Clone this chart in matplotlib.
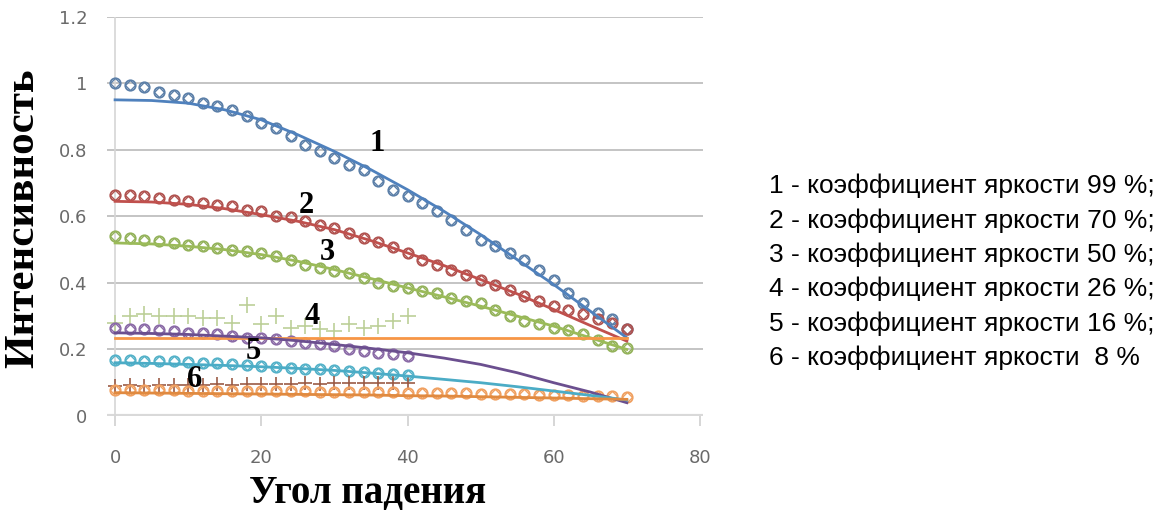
import matplotlib.pyplot as plt

# angles, degrees (measurements every 2 degrees)
angles_70 = list(range(0, 72, 2))
angles_40 = list(range(0, 42, 2))
fit_angles = [0, 5, 10, 15, 20, 25, 30, 35, 40, 45, 50, 55, 60, 65, 70]

# measured intensities
meas_1 = [1.00, 0.995, 0.99, 0.975, 0.965, 0.955, 0.94, 0.93, 0.92, 0.90, 0.88, 0.865,
          0.84, 0.815, 0.795, 0.775, 0.755, 0.74, 0.705, 0.68, 0.66, 0.64, 0.615, 0.59,
          0.56, 0.53, 0.51, 0.49, 0.47, 0.44, 0.41, 0.37, 0.34, 0.31, 0.29, 0.26]
meas_2 = [0.665, 0.665, 0.66, 0.655, 0.65, 0.645, 0.64, 0.635, 0.63, 0.62, 0.615, 0.60,
          0.598, 0.585, 0.575, 0.565, 0.55, 0.535, 0.523, 0.508, 0.49, 0.47, 0.455, 0.44,
          0.425, 0.41, 0.395, 0.38, 0.36, 0.345, 0.33, 0.32, 0.305, 0.29, 0.28, 0.26]
meas_3 = [0.54, 0.535, 0.53, 0.525, 0.52, 0.515, 0.51, 0.505, 0.50, 0.495, 0.49, 0.48,
          0.47, 0.455, 0.445, 0.435, 0.43, 0.415, 0.40, 0.39, 0.385, 0.375, 0.37, 0.355,
          0.345, 0.34, 0.32, 0.30, 0.285, 0.275, 0.265, 0.258, 0.245, 0.228, 0.21, 0.205]
meas_4 = [0.28, 0.30, 0.305, 0.30, 0.30, 0.30, 0.295, 0.295, 0.28, 0.335, 0.275, 0.30,
          0.265, 0.27, 0.26, 0.255, 0.275, 0.265, 0.27, 0.285, 0.30]
meas_5 = [0.265, 0.26, 0.26, 0.258, 0.255, 0.25, 0.25, 0.245, 0.24, 0.235, 0.235, 0.23,
          0.225, 0.22, 0.215, 0.21, 0.20, 0.195, 0.19, 0.185, 0.18]
meas_5b = [0.168, 0.167, 0.166, 0.165, 0.164, 0.162, 0.16, 0.158, 0.155, 0.152, 0.15, 0.147,
           0.145, 0.142, 0.14, 0.137, 0.134, 0.131, 0.128, 0.125, 0.122]
meas_6 = [0.09, 0.092, 0.09, 0.093, 0.092, 0.094, 0.093, 0.095, 0.094, 0.096, 0.095, 0.097,
          0.096, 0.098, 0.097, 0.099, 0.098, 0.1, 0.099, 0.1, 0.1]
meas_6b = [0.078, 0.078, 0.077, 0.077, 0.077, 0.076, 0.076, 0.076, 0.075, 0.075, 0.075, 0.074,
           0.074, 0.074, 0.073, 0.073, 0.072, 0.072, 0.071, 0.071, 0.07, 0.07, 0.069, 0.069,
           0.068, 0.067, 0.067, 0.066, 0.065, 0.064, 0.063, 0.062, 0.061, 0.06, 0.059, 0.058]

# calculated curves
fit_1 = [0.95, 0.948, 0.94, 0.92, 0.89, 0.845, 0.795, 0.74, 0.68, 0.615, 0.545, 0.47, 0.395,
         0.315, 0.235]
fit_2 = [0.645, 0.643, 0.636, 0.623, 0.605, 0.585, 0.56, 0.527, 0.49, 0.452, 0.41, 0.367, 0.32,
         0.272, 0.225]
fit_3 = [0.52, 0.517, 0.51, 0.50, 0.485, 0.465, 0.44, 0.413, 0.385, 0.358, 0.33, 0.30, 0.27,
         0.235, 0.20]
fit_4 = [0.235, 0.235, 0.235, 0.235, 0.235, 0.235, 0.235, 0.235, 0.235, 0.235, 0.235, 0.235,
         0.235, 0.235, 0.235]
fit_5 = [0.25, 0.248, 0.245, 0.24, 0.235, 0.226, 0.215, 0.203, 0.19, 0.174, 0.155, 0.13, 0.10,
         0.072, 0.04]
fit_5b = [0.16, 0.158, 0.155, 0.152, 0.148, 0.143, 0.137, 0.129, 0.12, 0.11, 0.10, 0.088, 0.075,
          0.062, 0.048]
fit_6 = [0.07, 0.069, 0.068, 0.067, 0.066, 0.065, 0.064, 0.063, 0.061, 0.06, 0.058, 0.056, 0.054,
         0.052, 0.05]

curve_labels = ["1", "2", "3", "4", "5", "6"]
label_x = [35.9, 26.2, 29.1, 27.0, 18.9, 10.9]
label_y = [0.82, 0.634, 0.49, 0.30, 0.195, 0.11]

legend_lines = [
    "1 - коэффициент яркости 99 %;",
    "2 - коэффициент яркости 70 %;",
    "3 - коэффициент яркости 50 %;",
    "4 - коэффициент яркости 26 %;",
    "5 - коэффициент яркости 16 %;",
    "6 - коэффициент яркости  8 %",
]

x_ticks = [0, 20, 40, 60, 80]
y_ticks = [0, 0.2, 0.4, 0.6, 0.8, 1.0, 1.2]
y_tick_labels = ["0", "0.2", "0.4", "0.6", "0.8", "1", "1.2"]

fig = plt.figure(figsize=(11.66, 5.12), dpi=100)
ax = fig.add_axes([0.0918, 0.1875, 0.511, 0.78])

for y in y_ticks[1:]:
    ax.axhline(y, color="#c4c4c4", lw=1.4, zorder=0)
ax.axhline(0, color="#d9d9d9", lw=3, zorder=0)
ax.axvline(0, color="#d6d6d6", lw=1.2, zorder=0)


def hollow(xs, ys, color):
    ax.plot(xs, ys, ls="none", marker="o", ms=7.5, mfc="none", mec=color, mew=1.3, zorder=3)
    ax.plot(xs, ys, ls="none", marker="D", ms=5, mfc="none", mec=color, mew=0.9, zorder=3)


hollow(angles_70, meas_1, "#5b7fa8")
hollow(angles_70, meas_2, "#b0524f")
hollow(angles_70, meas_3, "#93b25a")
ax.plot(angles_40, meas_4, ls="none", marker="+", ms=11, mew=1.2, color="#bccf98", zorder=3)
hollow(angles_40, meas_5, "#8a6aa6")
hollow(angles_40, meas_5b, "#53b1c8")
ax.plot(angles_40, meas_6, ls="none", marker="+", ms=10, mew=1.2, color="#9b5b45", zorder=3)
hollow(angles_70, meas_6b, "#f0a060")

ax.plot(fit_angles, fit_1, color="#4f81bd", lw=2, zorder=4)
ax.plot(fit_angles, fit_2, color="#c0504d", lw=2, zorder=4)
ax.plot(fit_angles, fit_3, color="#9bbb59", lw=2, zorder=4)
ax.plot(fit_angles, fit_4, color="#f79646", lw=2, zorder=4)
ax.plot(fit_angles, fit_5, color="#6b4f8f", lw=2, zorder=4)
ax.plot(fit_angles, fit_5b, color="#4bacc6", lw=2, zorder=4)
ax.plot(fit_angles, fit_6, color="#e08a40", lw=2, zorder=4)

for lbl, lx, ly in zip(curve_labels, label_x, label_y):
    ax.text(lx, ly, lbl, family="Liberation Serif", fontweight="bold", fontsize=22,
            ha="center", va="center", color="black", zorder=6)

ax.set_xlim(-1.1, 80.4)
ax.set_ylim(0, 1.2)
ax.set_xticks(x_ticks)
ax.set_yticks(y_ticks)
ax.set_yticklabels(y_tick_labels)
ax.tick_params(axis="both", colors="#d0d0d0", labelcolor="#6a6a6a", labelsize=13)
ax.tick_params(axis="y", length=0, pad=14)
ax.tick_params(axis="x", length=7, width=1.2, pad=17)
for side in ax.spines.values():
    side.set_visible(False)

fig.text(368 / 1166, 1 - 494 / 512, "Угол падения", family="Liberation Serif",
         fontweight="bold", fontsize=28, ha="center", va="center")
fig.text(23 / 1166, 1 - 218 / 512, "Интенсивность", family="Liberation Serif",
         fontweight="bold", fontsize=31, ha="center", va="center", rotation=90)

for i, line in enumerate(legend_lines):
    fig.text(769 / 1166, 1 - (186 + i * 34.4) / 512, line, family="Liberation Sans",
             fontsize=19, va="center", ha="left", color="black")

fig.savefig("out.png", dpi=100)
